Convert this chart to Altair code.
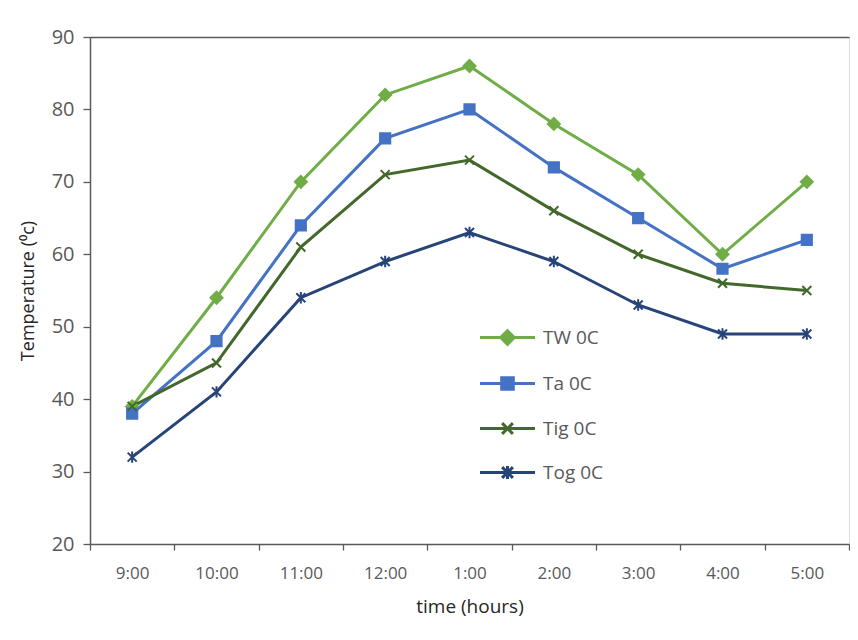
import altair as alt
import pandas as pd

times = ["9:00", "10:00", "11:00", "12:00", "1:00", "2:00", "3:00", "4:00", "5:00"]
series = ["TW 0C", "Ta 0C", "Tig 0C", "Tog 0C"]
tw = [39, 54, 70, 82, 86, 78, 71, 60, 70]
ta = [38, 48, 64, 76, 80, 72, 65, 58, 62]
tig = [39, 45, 61, 71, 73, 66, 60, 56, 55]
tog = [32, 41, 54, 59, 63, 59, 53, 49, 49]
colors = ["#70AD47", "#4472C4", "#43682B", "#264478"]
y_ticks = [20, 30, 40, 50, 60, 70, 80, 90]

# marker glyphs (unit paths)
marker_paths = [
    "M0,-1L1,0L0,1L-1,0Z",
    "M-0.85,-0.85H0.85V0.85H-0.85Z",
    "M-0.75,-0.75L0.75,0.75M-0.75,0.75L0.75,-0.75",
    "M-0.75,-0.75L0.75,0.75M-0.75,0.75L0.75,-0.75M0,-0.95V0.95",
]
# legend glyphs: line stub + marker
legend_paths = [
    "M-1.375,0H1.375M0,-0.34L0.34,0L0,0.34L-0.34,0Z",
    "M-1.375,0H1.375M-0.29,-0.29H0.29V0.29H-0.29Z",
    "M-1.375,0H1.375M-0.27,-0.27L0.27,0.27M-0.27,0.27L0.27,-0.27",
    "M-1.375,0H1.375M-0.27,-0.27L0.27,0.27M-0.27,0.27L0.27,-0.27M0,-0.32V0.32",
]

rows = []
for name, vals in zip(series, [tw, ta, tig, tog]):
    for t, v in zip(times, vals):
        rows.append({"time": t, "series": name, "value": v})
df = pd.DataFrame(rows)

FONT = "Open Sans"
GREY = "#595959"

x_enc = alt.X(
    "time:N",
    sort=times,
    scale=alt.Scale(type="band", paddingInner=0, paddingOuter=0),
    axis=alt.Axis(
        title="time (hours)",
        labelAngle=0,
        tickBand="extent",
        tickSize=6,
        labelPadding=15,
        labelFontSize=17,
        labelColor=GREY,
        labelFont=FONT,
        titleFont=FONT,
        titleFontSize=19,
        titleFontWeight="normal",
        titleColor="#262626",
        titlePadding=16,
        domainColor=GREY,
        domainWidth=1.5,
        tickColor=GREY,
        tickWidth=1.3,
    ),
)
y_enc = alt.Y(
    "value:Q",
    scale=alt.Scale(domain=[20, 90], nice=False, zero=False),
    axis=alt.Axis(
        title="Temperature (\u2070c)",
        values=y_ticks,
        tickSize=7,
        labelPadding=9,
        labelFontSize=20,
        labelColor=GREY,
        labelFont=FONT,
        titleFont=FONT,
        titleFontSize=18,
        titleFontWeight="normal",
        titleColor="#262626",
        titlePadding=14,
        domainColor=GREY,
        domainWidth=1.5,
        tickColor=GREY,
        tickWidth=1.3,
        grid=True,
        gridColor=GREY,
        gridWidth=1.5,
        gridOpacity={"condition": {"test": "datum.value === 90", "value": 1}, "value": 0},
    ),
)


def col_scale():
    return alt.Scale(domain=series, range=colors)


leg = alt.Legend(
    title=None,
    orient="none",
    legendX=396,
    legendY=279,
    symbolSize=1600,
    symbolStrokeWidth=3,
    symbolOpacity=1,
    labelFontSize=19,
    labelFont=FONT,
    labelColor=GREY,
    labelOffset=14,
    rowPadding=11,
    padding=0,
)

lines = alt.Chart(df).mark_line(strokeWidth=3).encode(
    x=x_enc,
    y=y_enc,
    stroke=alt.Stroke("series:N", scale=col_scale(), legend=None, sort=series),
)

points = alt.Chart(df).mark_point(filled=True, size=144, strokeWidth=2, opacity=1).encode(
    x=x_enc,
    y=y_enc,
    fill=alt.Fill("series:N", scale=col_scale(), legend=None, sort=series),
    stroke=alt.Stroke("series:N", scale=col_scale(), legend=None, sort=series),
    shape=alt.Shape("series:N", scale=alt.Scale(domain=series, range=marker_paths), legend=None, sort=series),
)

legend_layer = alt.Chart(df).mark_point(filled=True, opacity=1).transform_filter("false").encode(
    x=x_enc,
    y=y_enc,
    fill=alt.Fill("series:N", scale=col_scale(), legend=leg, sort=series),
    stroke=alt.Stroke("series:N", scale=col_scale(), legend=leg, sort=series),
    shape=alt.Shape("series:N", scale=alt.Scale(domain=series, range=legend_paths), legend=leg, sort=series),
)

chart = (
    alt.layer(lines, points, legend_layer)
    .resolve_scale(shape="independent", fill="independent", stroke="independent")
    .properties(width=759, height=507, padding={"left": 11, "top": 19, "right": 0, "bottom": 6})
    .configure_view(stroke=None)
    .configure(background="white")
)

chart.save("out.html", embed_options={"renderer": "svg", "actions": False})
